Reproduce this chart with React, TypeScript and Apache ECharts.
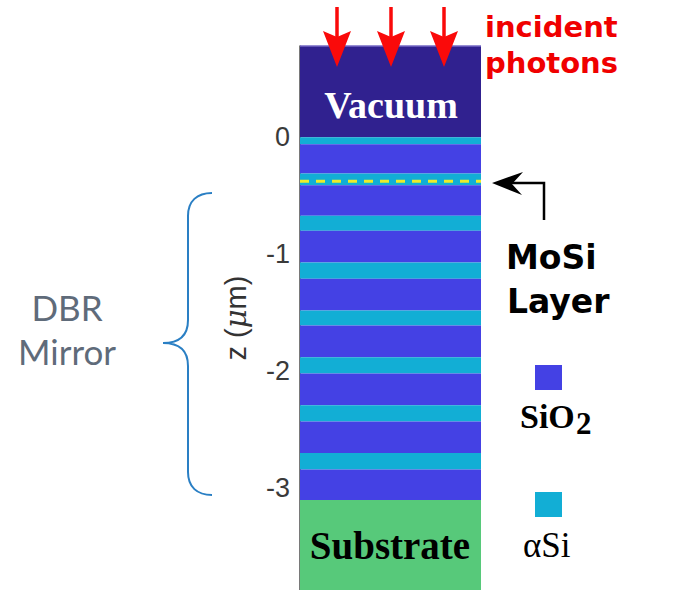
import React, { useEffect, useRef } from "react";
import * as echarts from "echarts";

// z positions (μm) of the layer boundaries, top to bottom
const zBoundaries = [0.78, 0, -0.06, -0.31, -0.41, -0.67, -0.8, -1.07, -1.21, -1.48, -1.61, -1.88, -2.02, -2.29, -2.43, -2.7, -2.84, -3.1, -3.87];
// material of each layer between consecutive boundaries
const layerMaterials = [
  "Vacuum", "αSi", "SiO2", "αSi", "SiO2", "αSi", "SiO2", "αSi", "SiO2",
  "αSi", "SiO2", "αSi", "SiO2", "αSi", "SiO2", "αSi", "SiO2", "Substrate",
];
const moSiDepth = [-0.376];
const yTicks = [0, -1, -2, -3];

const materialColors: Record<string, string> = {
  Vacuum: "#30218f",
  SiO2: "#4441e4",
  "αSi": "#12aed5",
  Substrate: "#57c97a",
};

echarts.graphic.registerShape(
  "brace",
  echarts.graphic.extendPath(
    "M212,193 C197,193 188,201 188,216 L188,320 C188,335 180,343 163,343 C180,343 188,351 188,366 L188,472 C188,487 197,495 212,495",
    {}
  )
);

function redArrow(x: number) {
  return [
    { type: "line", z: 10, shape: { x1: x, y1: 7, x2: x, y2: 38 }, style: { stroke: "#fa0a0a", lineWidth: 3.5 } },
    { type: "polygon", z: 10, shape: { points: [[x, 67], [x - 14, 31], [x, 37], [x + 14, 31]] }, style: { fill: "#fa0a0a" } },
  ];
}

export default function App() {
  const ref = useRef<HTMLDivElement>(null);
  useEffect(() => {
    if (!ref.current) return;
    const chart = echarts.init(ref.current, null, { renderer: "svg" });
    const layerData = layerMaterials.map((m, i) => [0, zBoundaries[i], zBoundaries[i + 1]]);
    const serif = "Liberation Serif";
    const sansBold = "DejaVu Sans";
    chart.setOption({
      animation: false,
      grid: { left: 300, right: 202, top: 46, bottom: 0, containLabel: false },
      xAxis: { type: "value", min: 0, max: 1, show: false },
      yAxis: {
        type: "value",
        min: -3.87,
        max: 0.78,
        name: "z ({mu|μ}m)",
        nameLocation: "middle",
        nameGap: 50,
        nameRotate: 90,
        nameTextStyle: {
          fontFamily: "Liberation Sans",
          fontSize: 29,
          color: "#333",
          rich: { mu: { fontFamily: "DejaVu Serif", fontStyle: "italic", fontSize: 29, color: "#333" } },
        },
        axisLine: { show: true, lineStyle: { color: "#4d4d4d", width: 1.5 } },
        axisTick: { show: false },
        splitLine: { show: false },
        axisLabel: {
          customValues: yTicks,
          fontFamily: "Liberation Sans",
          fontSize: 27,
          color: "#3a3a3a",
          margin: 10,
        },
      },
      series: [
        {
          type: "custom",
          name: "layers",
          data: layerData,
          renderItem: (params: any, api: any) => {
            const p1 = api.coord([0, api.value(1)]);
            const p2 = api.coord([1, api.value(2)]);
            return {
              type: "rect",
              shape: { x: p1[0], y: p1[1], width: p2[0] - p1[0], height: p2[1] - p1[1] },
              style: { fill: materialColors[layerMaterials[params.dataIndex]] },
            };
          },
          silent: true,
          z: 1,
        },
        {
          type: "line",
          name: "MoSi",
          data: [[0, moSiDepth[0]], [1, moSiDepth[0]]],
          symbol: "none",
          lineStyle: { color: "#ecec2a", width: 3, type: [9, 7] },
          z: 3,
          silent: true,
        },
      ],
      graphic: {
        elements: [
          ...redArrow(337),
          ...redArrow(391),
          ...redArrow(444),
          { type: "line", z: 9, shape: { x1: 300, y1: 46, x2: 481, y2: 46 }, style: { stroke: "#7468c4", lineWidth: 1.5 } },
          { type: "text", z: 10, x: 391, y: 105, style: { text: "Vacuum", fill: "#ffffff", font: `bold 38px "${serif}"`, align: "center", verticalAlign: "middle" } },
          { type: "text", z: 10, x: 390, y: 545, style: { text: "Substrate", fill: "#000000", font: `bold 39px "${serif}"`, align: "center", verticalAlign: "middle" } },
          { type: "text", z: 10, x: 485, y: 27, style: { text: "incident", fill: "#f00000", font: `bold 29px "${sansBold}"`, align: "left", verticalAlign: "middle" } },
          { type: "text", z: 10, x: 485, y: 63, style: { text: "photons", fill: "#f00000", font: `bold 29px "${sansBold}"`, align: "left", verticalAlign: "middle" } },
          { type: "text", z: 10, x: 506, y: 257, style: { text: "MoSi", fill: "#000000", font: `bold 33px "${sansBold}"`, align: "left", verticalAlign: "middle" } },
          { type: "text", z: 10, x: 507, y: 301, style: { text: "Layer", fill: "#000000", font: `bold 33px "${sansBold}"`, align: "left", verticalAlign: "middle" } },
          { type: "polyline", z: 10, shape: { points: [[544, 220], [544, 183], [510, 183]] }, style: { stroke: "#000", lineWidth: 2.5, fill: "none" } },
          { type: "polygon", z: 10, shape: { points: [[492, 183], [523, 172], [512, 184], [522, 195]] }, style: { fill: "#000" } },
          { type: "rect", z: 10, shape: { x: 535, y: 365, width: 27, height: 25 }, style: { fill: materialColors.SiO2 } },
          { type: "text", z: 10, x: 520, y: 416, style: { text: "SiO", fill: "#000", font: `bold 34px "${serif}"`, align: "left", verticalAlign: "middle" } },
          { type: "text", z: 10, x: 576, y: 423, style: { text: "2", fill: "#000", font: `bold 31px "${serif}"`, align: "left", verticalAlign: "middle" } },
          { type: "rect", z: 10, shape: { x: 535, y: 492, width: 27, height: 25 }, style: { fill: materialColors["αSi"] } },
          { type: "text", z: 10, x: 523, y: 545, style: { text: "αSi", fill: "#000", font: `35px "${serif}"`, align: "left", verticalAlign: "middle" } },
          { type: "text", z: 10, x: 67, y: 307, style: { text: "DBR", fill: "#5f6b7a", font: `35px "Lato"`, align: "center", verticalAlign: "middle" } },
          { type: "text", z: 10, x: 67, y: 351, style: { text: "Mirror", fill: "#5f6b7a", font: `35px "Lato"`, align: "center", verticalAlign: "middle" } },
          { type: "brace", z: 10, x: 0, y: 0, style: { fill: "none", stroke: "#2a7fc4", lineWidth: 2 } },
        ],
      },
    });
    return () => chart.dispose();
  }, []);
  return <div ref={ref} style={{ position: "absolute", left: 0, top: 0, width: 683, height: 590 }} />;
}
